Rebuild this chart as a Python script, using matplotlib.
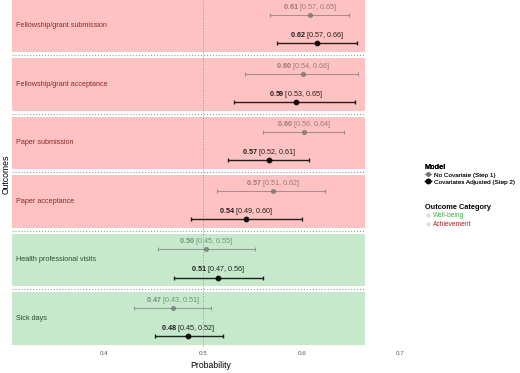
import numpy as np
import matplotlib
matplotlib.use("Agg")
import matplotlib.pyplot as plt
from matplotlib.lines import Line2D

plt.rcParams['font.family'] = ['Liberation Sans', 'DejaVu Sans']
plt.rcParams['mathtext.fontset'] = 'custom'
plt.rcParams['mathtext.rm'] = 'Liberation Sans'
plt.rcParams['mathtext.bf'] = 'Liberation Sans:bold'

# outcomes, top to bottom
outcomes = ['Fellowship/grant submission', 'Fellowship/grant acceptance',
            'Paper submission', 'Paper acceptance',
            'Health professional visits', 'Sick days']
category = ['Achievement', 'Achievement', 'Achievement', 'Achievement',
            'Well-being', 'Well-being']

# Step 1: no covariate
est1 = [0.608, 0.601, 0.602, 0.571, 0.503, 0.469]
lo1 = [0.568, 0.543, 0.561, 0.514, 0.454, 0.430]
hi1 = [0.648, 0.657, 0.643, 0.624, 0.553, 0.508]
lab1 = [('0.61', '[0.57, 0.65]'), ('0.60', '[0.54, 0.66]'), ('0.60', '[0.56, 0.64]'),
        ('0.57', '[0.51, 0.62]'), ('0.50', '[0.45, 0.55]'), ('0.47', '[0.43, 0.51]')]

# Step 2: covariates adjusted
est2 = [0.616, 0.594, 0.567, 0.544, 0.515, 0.485]
lo2 = [0.575, 0.531, 0.525, 0.488, 0.470, 0.451]
hi2 = [0.656, 0.654, 0.607, 0.600, 0.561, 0.520]
lab2 = [('0.62', '[0.57, 0.66]'), ('0.59', '[0.53, 0.65]'), ('0.57', '[0.52, 0.61]'),
        ('0.54', '[0.49, 0.60]'), ('0.51', '[0.47, 0.56]'), ('0.48', '[0.45, 0.52]')]

xticks = [0.4, 0.5, 0.6, 0.7]

bg = {'Achievement': '#ffc2c2', 'Well-being': '#c6e9cb'}
txtcol = {'Achievement': '#8b2a2a', 'Well-being': '#2c4f31'}

fig = plt.figure(figsize=(5.2, 3.73), dpi=100)
ax = fig.add_axes([12 / 520, 25.2 / 373, 398 / 520, 347.8 / 373])

n = len(outcomes)
ypos = np.arange(n, 0, -1)
rect_right = 0.664
xmin = 0.306

for i in range(n):
    y = ypos[i]
    c = category[i]
    ax.fill_between([xmin, rect_right], y - 0.45, y + 0.45, color=bg[c], lw=0, zorder=0)
    ax.text(xmin + 0.004, y, outcomes[i], color=txtcol[c], fontsize=5.2,
            va='center', ha='left')
    if i > 0:
        ax.plot([xmin, rect_right], [y + 0.5, y + 0.5], color='#9a9a9a', ls=':',
                lw=0.8, zorder=1)

    # step 1 (gray)
    y1 = y + 0.18
    ax.errorbar(est1[i], y1, xerr=[[est1[i] - lo1[i]], [hi1[i] - est1[i]]],
                fmt='o', color='#6e6e6e', alpha=0.6, ms=2.8, lw=0.8,
                capsize=1.3, capthick=0.8, zorder=3)
    ax.text(est1[i], y1 + 0.13, r'$\bf{%s}$ %s' % lab1[i], color='black', alpha=0.38,
            fontsize=5.2, ha='center', va='center')

    # step 2 (black)
    y2 = y - 0.3
    ax.errorbar(est2[i], y2, xerr=[[est2[i] - lo2[i]], [hi2[i] - est2[i]]],
                fmt='o', color='black', alpha=0.85, ms=3.2, lw=1.0,
                capsize=1.3, capthick=1.0, zorder=3)
    ax.text(est2[i], y2 + 0.13, r'$\bf{%s}$ %s' % lab2[i], color='black', alpha=0.85,
            fontsize=5.2, ha='center', va='center')

ax.axvline(0.5, color='#9a9a9a', ls=':', lw=0.7, zorder=2)

ax.set_xlim(xmin, 0.710)
ax.set_ylim(0.5, 6.44)
ax.set_xticks(xticks)
ax.set_xticklabels([str(t) for t in xticks])
ax.set_yticks([])
ax.tick_params(axis='x', length=0, labelsize=4.5, labelcolor='#555555', pad=2)
for s in ax.spines.values():
    s.set_visible(False)
ax.set_xlabel('Probability', fontsize=6.2, labelpad=4)
ax.set_ylabel('Outcomes', fontsize=6.2, labelpad=1)

# legends
h_model = [Line2D([], [], color='#6e6e6e', alpha=0.6, marker='o', ms=2.5, lw=0.8),
           Line2D([], [], color='black', marker='o', ms=3.0, lw=1.0)]
leg1 = fig.legend(h_model, ['No Covariate (Step 1)', 'Covariates Adjusted (Step 2)'],
                  title='Model', loc='upper left', bbox_to_anchor=(422 / 520, 1 - 161 / 373),
                  frameon=False, fontsize=4.6, title_fontproperties={'weight': 'bold', 'size': 5.3},
                  handlelength=1.0, handletextpad=0.4, labelspacing=0.25,
                  borderaxespad=0, alignment='left', labelcolor='#222222')
fig.add_artist(leg1)
h_cat = [Line2D([], [], color='#dddddd', marker='o', ms=2, lw=0),
         Line2D([], [], color='#dddddd', marker='o', ms=2, lw=0)]
fig.legend(h_cat, ['Well-being', 'Achievement'], title='Outcome Category',
           loc='upper left', bbox_to_anchor=(422 / 520, 1 - 201 / 373),
           frameon=False, fontsize=4.8, title_fontproperties={'weight': 'bold', 'size': 5.3},
           handlelength=1.0, handletextpad=0.2, labelspacing=0.25,
           borderaxespad=0, alignment='left',
           labelcolor=['#3cb043', '#b01e1e'])

fig.savefig('out.png', dpi=100)
